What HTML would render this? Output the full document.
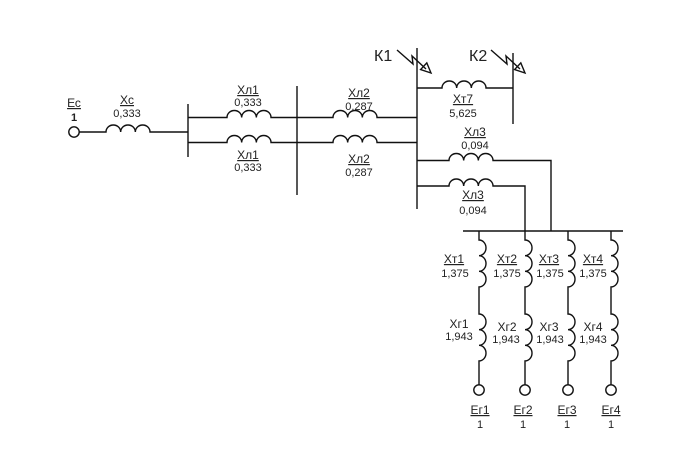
<!DOCTYPE html>
<html>
<head>
<meta charset="utf-8">
<style>
html,body{margin:0;padding:0;background:#fff;}
svg{display:block;}
text{font-family:"Liberation Sans",Arial,sans-serif;fill:#222;}
.n{font-size:12px;text-decoration:underline;}
.nn{font-size:12px;}
.v{font-size:11px;}
</style>
</head>
<body>
<svg width="685" height="474" viewBox="0 0 685 474" xmlns="http://www.w3.org/2000/svg">
<g fill="none" stroke="#111" stroke-width="1.4">
  <circle cx="74" cy="132" r="5.2"/>
  <path d="M79.2 132 H106 a7.33 7 0 0 1 14.67 0 a7.33 7 0 0 1 14.67 0 a7.33 7 0 0 1 14.67 0 H188"/>
  <line x1="188" y1="104" x2="188" y2="157"/>
  <path d="M188 117.5 H227 a7.33 7 0 0 1 14.67 0 a7.33 7 0 0 1 14.67 0 a7.33 7 0 0 1 14.67 0 H333 a7.33 7 0 0 1 14.67 0 a7.33 7 0 0 1 14.67 0 a7.33 7 0 0 1 14.67 0 H417"/>
  <path d="M188 142.5 H227 a7.33 7 0 0 1 14.67 0 a7.33 7 0 0 1 14.67 0 a7.33 7 0 0 1 14.67 0 H333 a7.33 7 0 0 1 14.67 0 a7.33 7 0 0 1 14.67 0 a7.33 7 0 0 1 14.67 0 H417"/>
  <line x1="297" y1="86" x2="297" y2="195"/>
  <line x1="417" y1="48" x2="417" y2="209"/>
  <path d="M417 88 H442 a7.33 7 0 0 1 14.67 0 a7.33 7 0 0 1 14.67 0 a7.33 7 0 0 1 14.67 0 H513"/>
  <line x1="513" y1="53" x2="513" y2="124"/>
  <path d="M417 160.5 H449 a7.33 7 0 0 1 14.67 0 a7.33 7 0 0 1 14.67 0 a7.33 7 0 0 1 14.67 0 H551 V231"/>
  <path d="M417 186 H449 a7.33 7 0 0 1 14.67 0 a7.33 7 0 0 1 14.67 0 a7.33 7 0 0 1 14.67 0 H525 V231"/>
  <line x1="463" y1="231" x2="623" y2="231"/>
  <path d="M479 231 V240 a7 7.83 0 0 1 0 15.67 a7 7.83 0 0 1 0 15.67 a7 7.83 0 0 1 0 15.67 V314 a7 7.83 0 0 1 0 15.67 a7 7.83 0 0 1 0 15.67 a7 7.83 0 0 1 0 15.67 V385"/>
  <circle cx="479" cy="390" r="5.2"/>
  <path d="M525 231 V240 a7 7.83 0 0 1 0 15.67 a7 7.83 0 0 1 0 15.67 a7 7.83 0 0 1 0 15.67 V314 a7 7.83 0 0 1 0 15.67 a7 7.83 0 0 1 0 15.67 a7 7.83 0 0 1 0 15.67 V385"/>
  <circle cx="525" cy="390" r="5.2"/>
  <path d="M568 231 V240 a7 7.83 0 0 1 0 15.67 a7 7.83 0 0 1 0 15.67 a7 7.83 0 0 1 0 15.67 V314 a7 7.83 0 0 1 0 15.67 a7 7.83 0 0 1 0 15.67 a7 7.83 0 0 1 0 15.67 V385"/>
  <circle cx="568" cy="390" r="5.2"/>
  <path d="M611 231 V240 a7 7.83 0 0 1 0 15.67 a7 7.83 0 0 1 0 15.67 a7 7.83 0 0 1 0 15.67 V314 a7 7.83 0 0 1 0 15.67 a7 7.83 0 0 1 0 15.67 a7 7.83 0 0 1 0 15.67 V385"/>
  <circle cx="611" cy="390" r="5.2"/>
  <polyline points="397,50 413,64 412,56 426,69"/>
  <polygon points="431,73 420.6,69.5 426.8,62.9"/>
  <polyline points="491,50 507,64 506,56 520,69"/>
  <polygon points="525,73 514.6,69.5 520.8,62.9"/>
</g>

<text class="n" x="74" y="107" text-anchor="middle">Ес</text>
<text x="74" y="121" text-anchor="middle" style="font-size:11px;font-weight:bold;">1</text>

<text class="n" x="127" y="104" text-anchor="middle">Xс</text>
<text class="v" x="127" y="117" text-anchor="middle">0,333</text>

<text class="n" x="248" y="94" text-anchor="middle">Xл1</text>
<text class="v" x="248" y="106" text-anchor="middle">0,333</text>
<text class="n" x="248" y="159" text-anchor="middle">Xл1</text>
<text class="v" x="248" y="171" text-anchor="middle">0,333</text>

<text class="n" x="359" y="97" text-anchor="middle">Xл2</text>
<text class="v" x="359" y="110" text-anchor="middle">0,287</text>
<text class="n" x="359" y="163" text-anchor="middle">Xл2</text>
<text class="v" x="359" y="176" text-anchor="middle">0,287</text>

<text x="374" y="61" style="font-size:16px;">К1</text>
<text x="469" y="61" style="font-size:16px;">К2</text>

<text class="n" x="463" y="103" text-anchor="middle">Xт7</text>
<text class="v" x="463" y="117" text-anchor="middle">5,625</text>

<text class="n" x="475" y="136" text-anchor="middle">Xл3</text>
<text class="v" x="475" y="149" text-anchor="middle">0,094</text>
<text class="n" x="473" y="199" text-anchor="middle">Xл3</text>
<text class="v" x="473" y="214" text-anchor="middle">0,094</text>

<text class="n" x="454" y="263" text-anchor="middle">Xт1</text>
<text class="v" x="455" y="277" text-anchor="middle">1,375</text>
<text class="n" x="507" y="263" text-anchor="middle">Xт2</text>
<text class="v" x="507" y="277" text-anchor="middle">1,375</text>
<text class="n" x="549" y="263" text-anchor="middle">Xт3</text>
<text class="v" x="550" y="277" text-anchor="middle">1,375</text>
<text class="n" x="593" y="263" text-anchor="middle">Xт4</text>
<text class="v" x="593" y="277" text-anchor="middle">1,375</text>

<text class="nn" x="459" y="328" text-anchor="middle">Xг1</text>
<text class="v" x="459" y="340" text-anchor="middle">1,943</text>
<text class="nn" x="507" y="331" text-anchor="middle">Xг2</text>
<text class="v" x="506" y="343" text-anchor="middle">1,943</text>
<text class="nn" x="549" y="331" text-anchor="middle">Xг3</text>
<text class="v" x="550" y="343" text-anchor="middle">1,943</text>
<text class="nn" x="593" y="331" text-anchor="middle">Xг4</text>
<text class="v" x="593" y="343" text-anchor="middle">1,943</text>

<text class="n" x="480" y="414" text-anchor="middle">Ег1</text>
<text class="v" x="480" y="428" text-anchor="middle">1</text>
<text class="n" x="523" y="414" text-anchor="middle">Ег2</text>
<text class="v" x="523" y="428" text-anchor="middle">1</text>
<text class="n" x="567" y="414" text-anchor="middle">Ег3</text>
<text class="v" x="567" y="428" text-anchor="middle">1</text>
<text class="n" x="611" y="414" text-anchor="middle">Ег4</text>
<text class="v" x="611" y="428" text-anchor="middle">1</text>
</svg>
</body>
</html>
